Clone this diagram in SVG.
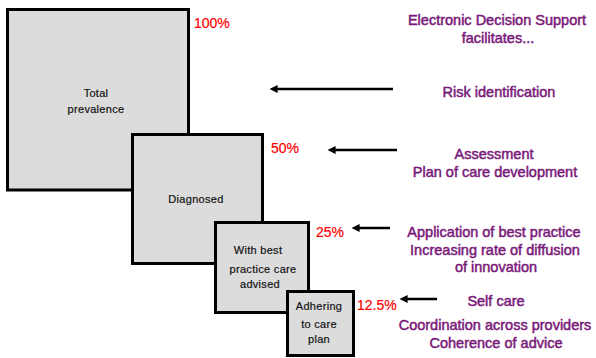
<svg xmlns="http://www.w3.org/2000/svg" width="596" height="358" viewBox="0 0 596 358">
<defs>
<style>
.box{fill:#dcdcdc;stroke:#000;stroke-width:3}
.bt{font-family:"Liberation Sans",Arial,sans-serif;font-size:11px;fill:#111;text-anchor:middle;letter-spacing:0.3px;stroke:#111;stroke-width:0.2}
.pct{font-family:"Liberation Sans",Arial,sans-serif;font-size:14px;fill:#ff0000;stroke:#ff0000;stroke-width:0.2}
.pt{font-family:"Liberation Sans",Arial,sans-serif;font-size:14.5px;fill:#7a1a7a;text-anchor:middle;stroke:#7a1a7a;stroke-width:0.5}
.arr{stroke:#000;stroke-width:2.5;fill:none;marker-end:url(#ah)}
</style>
<marker id="ah" viewBox="0 0 10 10" refX="2" refY="5" markerWidth="3.2" markerHeight="3.2" orient="auto">
<path d="M10,5 L0,0 L0,10 Z" fill="#000"/>
</marker>
</defs>
<g id="node-total">
<rect class="box" x="7.5" y="9.5" width="181" height="180.5"/>
<text class="bt" x="96" y="97">Total</text>
<text class="bt" x="96" y="113">prevalence</text>
</g>
<g id="node-diagnosed">
<rect class="box" x="132.5" y="134.5" width="130" height="129"/>
<text class="bt" x="196" y="203">Diagnosed</text>
</g>
<g id="node-best">
<rect class="box" x="215.5" y="222.5" width="93" height="90"/>
<text class="bt" x="258" y="254">With best</text>
<text class="bt" x="263" y="273">practice care</text>
<text class="bt" x="260" y="288">advised</text>
</g>
<g id="node-adhering">
<rect class="box" x="287.5" y="291.5" width="66" height="64"/>
<text class="bt" x="319" y="310">Adhering</text>
<text class="bt" x="319" y="328">to care</text>
<text class="bt" x="319" y="343">plan</text>
</g>
<g id="percentages">
<text class="pct" x="194" y="28">100%</text>
<text class="pct" x="271" y="153">50%</text>
<text class="pct" x="316" y="237">25%</text>
<text class="pct" x="357" y="310">12.5%</text>
</g>
<g id="connectors">
<line class="arr" x1="393" y1="89" x2="276" y2="89"/>
<line class="arr" x1="397" y1="150" x2="334" y2="150"/>
<line class="arr" x1="390" y1="228" x2="358" y2="228"/>
<line class="arr" x1="437" y1="299" x2="406" y2="299"/>
</g>
<g id="labels">
<text class="pt" x="497" y="25">Electronic Decision Support</text>
<text class="pt" x="498" y="43">facilitates...</text>
<text class="pt" x="499" y="97">Risk identification</text>
<text class="pt" x="494" y="159">Assessment</text>
<text class="pt" x="495" y="177">Plan of care development</text>
<text class="pt" x="494" y="237">Application of best practice</text>
<text class="pt" x="495" y="255">Increasing rate of diffusion</text>
<text class="pt" x="496" y="272">of innovation</text>
<text class="pt" x="496" y="306">Self care</text>
<text class="pt" x="495" y="330">Coordination across providers</text>
<text class="pt" x="496" y="348">Coherence of advice</text>
</g>
</svg>
